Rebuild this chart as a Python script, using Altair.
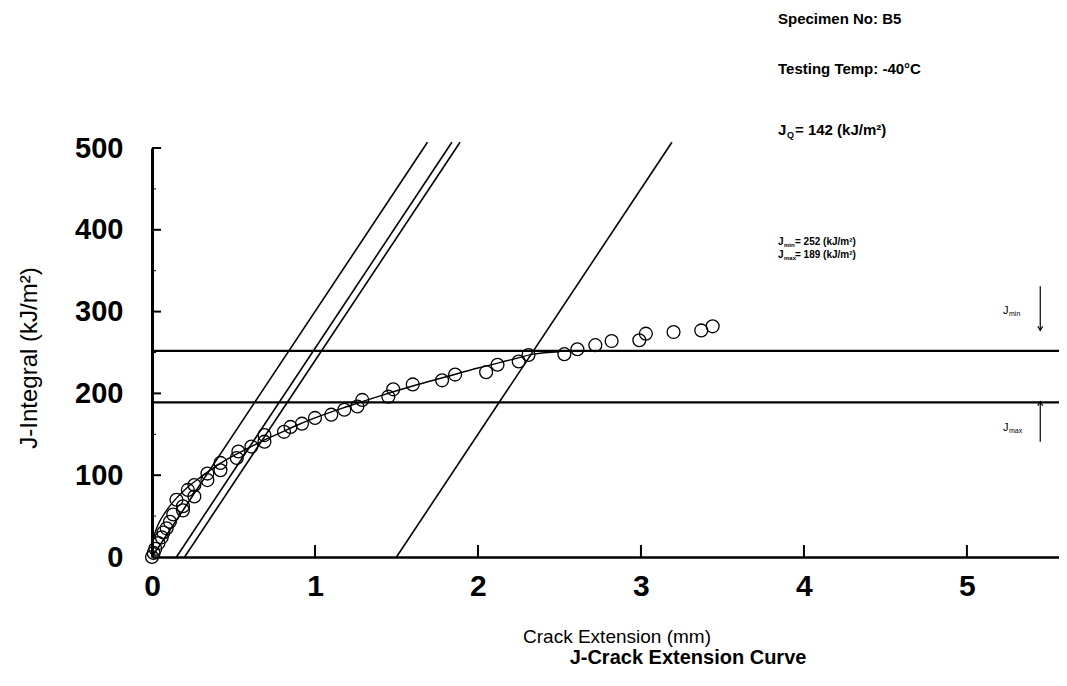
import altair as alt
import pandas as pd

# ---------------- data ----------------
crack_ext = [0.00, 0.01, 0.02, 0.04, 0.06, 0.07, 0.09, 0.11, 0.13, 0.15, 0.19, 0.19,
             0.22, 0.26, 0.26, 0.34, 0.34, 0.42, 0.42, 0.52, 0.53, 0.61, 0.69, 0.69,
             0.81, 0.85, 0.92, 1.00, 1.10, 1.18, 1.26, 1.29, 1.45, 1.48, 1.60, 1.78,
             1.86, 2.05, 2.12, 2.25, 2.31, 2.53, 2.61, 2.72, 2.82, 2.99, 3.03, 3.20,
             3.37, 3.44]
j_integral = [0, 5, 10, 17, 24, 30, 35, 43, 52, 70, 57, 62,
              82, 74, 88, 94, 102, 106, 115, 121, 129, 135, 141, 149,
              153, 159, 163, 170, 174, 180, 184, 192, 196, 205, 211, 216,
              223, 226, 235, 239, 247, 248, 254, 259, 264, 265, 273, 275,
              277, 282]

fit_ext = [0.0, 0.01, 0.03, 0.06, 0.10, 0.15, 0.20, 0.30, 0.40, 0.50, 0.60, 0.70,
           0.80, 0.90, 1.00, 1.20, 1.40, 1.60, 1.80, 2.00, 2.20, 2.34, 2.50]
fit_j = [0, 22, 36, 48, 60, 72, 82, 98, 112, 124, 134, 144,
         153, 162, 170, 184, 197, 209, 220, 231, 241, 248, 251]

J_MIN = 252
J_MAX = 189
J_Q = 142
BLUNT_SLOPE = 300          # kJ/m^2 per mm
line_offsets = [0.0, 0.15, 0.2, 1.5]
LINE_TOP_J = 507

x_tick_vals = [1, 2, 3, 4, 5]
x_label_vals = [0, 1, 2, 3, 4, 5]
y_tick_vals = [100, 200, 300, 400, 500]
y_minor_vals = [50, 150, 250, 350, 450]
y_label_vals = [0, 100, 200, 300, 400, 500]
arrow_x = 5.45

# ---------------- layout ----------------
W, H = 907, 409
X_MAX, Y_MAX = 5.565, 500
OX, OY = 152, 148           # page position of plot origin (top-left)
FONT = "Liberation Sans"

xs = alt.Scale(domain=[0, X_MAX], nice=False, zero=False)
ys = alt.Scale(domain=[0, Y_MAX], nice=False)
x_axis = alt.Axis(values=x_label_vals, format="d", title=None, ticks=False, grid=False,
                  domainColor="black", domainWidth=2.5, labelFont=FONT,
                  labelFontSize=30, labelFontWeight="bold", labelColor="black",
                  labelPadding=14, labelAlign="center", labelBaseline="top")
y_axis = alt.Axis(values=y_label_vals, title=None, ticks=False, grid=False,
                  domainColor="black", domainWidth=3, labelFont=FONT,
                  labelFontSize=29, labelFontWeight="bold", labelColor="black",
                  labelPadding=29, labelBaseline="middle")


def X(f):
    return alt.X(f, type="quantitative", scale=xs, axis=x_axis)


def Y(f):
    return alt.Y(f, type="quantitative", scale=ys, axis=y_axis)


pts = pd.DataFrame({"da": crack_ext, "j": j_integral})
fit = pd.DataFrame({"da": fit_ext, "j": fit_j})

rows = []
for k, off in enumerate(line_offsets):
    rows.append({"id": k, "da": off, "j": 0})
    rows.append({"id": k, "da": off + LINE_TOP_J / BLUNT_SLOPE, "j": LINE_TOP_J})
blunt = pd.DataFrame(rows)

layers = []

# oblique blunting / exclusion lines
layers.append(alt.Chart(blunt).mark_line(color="black", strokeWidth=1.6).encode(
    x=X("da"), y=Y("j"), detail="id:N"))

# Jmin / Jmax horizontal lines
hl = pd.DataFrame({"j": [J_MIN, J_MAX]})
layers.append(alt.Chart(hl).mark_rule(color="black", strokeWidth=2.2).encode(y=Y("j")))

# inward ticks
layers.append(alt.Chart(pd.DataFrame({"j": y_tick_vals})).mark_rule(color="black", strokeWidth=2).encode(
    y=Y("j"), x=alt.value(0), x2=alt.value(9)))
layers.append(alt.Chart(pd.DataFrame({"j": y_minor_vals})).mark_rule(color="black", strokeWidth=1).encode(
    y=Y("j"), x=alt.value(0), x2=alt.value(4)))
layers.append(alt.Chart(pd.DataFrame({"da": x_tick_vals})).mark_rule(color="black", strokeWidth=2).encode(
    x=X("da"), y=alt.value(H), y2=alt.value(H - 12)))

# fitted curve
layers.append(alt.Chart(fit).mark_line(color="black", strokeWidth=1.4, interpolate="monotone").encode(
    x=X("da"), y=Y("j")))

# data points
layers.append(alt.Chart(pts).mark_point(shape="circle", filled=False, color="black",
                                        size=165, strokeWidth=1.3, opacity=1).encode(
    x=X("da"), y=Y("j")))

# arrows for Jmin (down) and Jmax (up)
arr = pd.DataFrame({"x": [arrow_x, arrow_x], "j1": [331, 141], "j2": [J_MIN + 25, J_MAX + 1]})
layers.append(alt.Chart(arr).mark_rule(color="black", strokeWidth=1.2).encode(
    x=X("x"), y=Y("j1"), y2=alt.Y2("j2")))
heads = pd.DataFrame({"x": [arrow_x], "j": [J_MIN + 25]})
layers.append(alt.Chart(heads).mark_point(shape="M-0.6,-1L0,0L0.6,-1", filled=False, color="black",
                                          size=70, strokeWidth=1.2, opacity=1).encode(x=X("x"), y=Y("j")))
heads2 = pd.DataFrame({"x": [arrow_x], "j": [J_MAX + 1]})
layers.append(alt.Chart(heads2).mark_point(shape="M-0.6,1L0,0L0.6,1", filled=False, color="black",
                                           size=70, strokeWidth=1.2, opacity=1).encode(x=X("x"), y=Y("j")))


def txt(s, px, py, size, weight="bold", align="left", font=FONT, angle=0):
    return alt.Chart(pd.DataFrame({"t": [s]})).mark_text(
        align=align, baseline="middle", fontSize=size, fontWeight=weight, font=font,
        angle=angle, color="black").encode(
        text="t:N", x=alt.value(px - OX), y=alt.value(py - OY))


# top-right info block
layers.append(txt("Specimen No: B5", 778, 19, 15))
layers.append(txt("Testing Temp: -40°C", 778, 69, 15))
layers.append(txt("J", 778, 130, 15))
layers.append(txt("Q", 787, 135, 9))
layers.append(txt(f"= {J_Q} (kJ/m²)", 795, 130, 15))
layers.append(txt("J", 778, 242, 10))
layers.append(txt("min", 784, 245, 6))
layers.append(txt(f"= {J_MIN}  (kJ/m²)", 795, 242, 10))
layers.append(txt("J", 778, 255, 10))
layers.append(txt("max", 784, 258, 6))
layers.append(txt(f"= {J_MAX}  (kJ/m²)", 795, 255, 10))

# labels at arrows
layers.append(txt("J", 1003, 311, 11, weight="normal"))
layers.append(txt("min", 1009, 314, 7, weight="normal"))
layers.append(txt("J", 1003, 428, 11, weight="normal"))
layers.append(txt("max", 1009, 431, 7, weight="normal"))

# axis titles and chart title
layers.append(txt("J-Integral (kJ/m²)", 30, 358, 24, weight="normal", align="center", angle=270))
layers.append(txt("Crack Extension (mm)", 617, 637, 19, weight="normal", align="center"))
layers.append(txt("J-Crack Extension Curve", 688, 658, 20, weight="bold", align="center"))

chart = alt.layer(*layers).properties(
    width=W, height=H,
    autosize=alt.AutoSizeParams(type="none"),
    padding={"left": OX - 8, "top": OY - 8, "right": 1051 - (OX - 8) - W, "bottom": 670 - (OY - 8) - H},
    background="white",
).configure_view(stroke=None)

chart.save("out.html", embed_options={"renderer": "svg", "actions": False})
